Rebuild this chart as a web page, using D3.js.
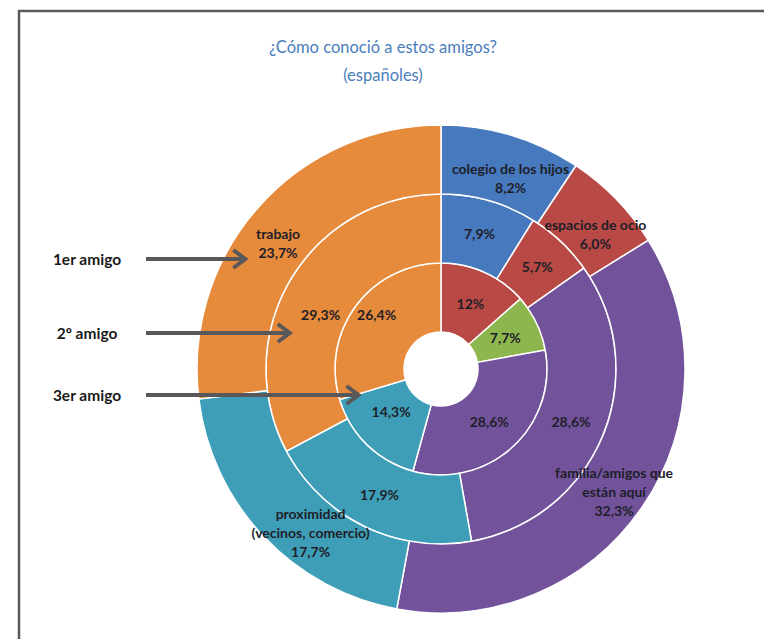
<!DOCTYPE html>
<html>
<head>
<meta charset="utf-8">
<script src="https://cdn.jsdelivr.net/npm/d3@7"></script>
<style>
  body { margin: 0; background: #fff; }
  svg { display: block; }
</style>
</head>
<body>
<svg id="chart" width="764" height="639"></svg>
<script>
// categories, in slice order (clockwise from 12 o'clock)
const categories = ["colegio de los hijos", "espacios de ocio", "otros", "familia/amigos que\nestán aquí", "proximidad\n(vecinos, comercio)", "trabajo"];
const colors = ["#4679bd", "#b94945", "#8eb64e", "#72539b", "#3e9eb8", "#e68a3b"];

// one ring per friend, inner to outer
const ringNames = ["3er amigo", "2º amigo", "1er amigo"];
const amigo3 = [0, 12, 7.7, 28.6, 14.3, 26.4];
const amigo2 = [7.9, 5.7, 0, 28.6, 17.9, 29.3];
const amigo1 = [8.2, 6.0, 0, 32.3, 17.7, 23.7];
const ringFormats = [".1~f", ".1f", ".1f"];

const title = ["¿Cómo conoció a estos amigos?", "(españoles)"];

const width = 764, height = 639;
const cx = 441, cy = 369;
const holeRadius = 37, outerRadius = 244;

const svg = d3.select('#chart');
const locale = d3.formatLocale({decimal: ",", thousands: ".", grouping: [3], currency: ["", "€"]});

// frame
svg.append('path')
.attr('d', `M19,${height} V11 H${width}`)
.attr('fill', 'none')
.attr('stroke', '#5a5a5a')
.attr('stroke-width', 2.5);

// title
svg.append('text')
.attr('text-anchor', 'middle')
.attr('font-family', 'Lato, sans-serif')
.attr('font-size', 16.5)
.attr('fill', '#4a7ebb')
.selectAll('tspan')
.data(title)
.join('tspan')
.attr('x', 383)
.attr('y', (d, i) => 53 + i * 28)
.text(d => d);

const radius = d3.scaleLinear().domain([0, ringNames.length]).range([holeRadius, outerRadius]);
const pie = d3.pie().sort(null).value(d => d);
const ringValues = [amigo3, amigo2, amigo1];

// nudges so labels sit where the original chart put them
const labelNudge = {
    "2-0": [9, 10], "2-1": [4, 11], "2-3": [0, 5], "2-4": [22, 20], "2-5": [-6, 13],
    "1-5": [0, 18], "0-5": [-7, -11], "0-4": [0, -8]
};

const vizGroup = svg.append('g').attr('transform', `translate(${cx},${cy})`);

ringValues.forEach((values, ri) => {
    const arc = d3.arc().innerRadius(radius(ri)).outerRadius(radius(ri + 1));
    const arcs = pie(values).map((d, i) => ({...d, ci: i}));
    const fmt = locale.format(ringFormats[ri]);

    const g = vizGroup.append('g').attr('class', `ring-${ri}`);
    g.selectAll('path')
    .data(arcs.filter(d => d.value > 0))
    .join('path')
    .attr('d', arc)
    .attr('fill', d => colors[d.ci])
    .attr('stroke', '#fff')
    .attr('stroke-width', 1.5);

    g.selectAll('text')
    .data(arcs.filter(d => d.value > 0))
    .join('text')
    .attr('font-family', 'Lato, sans-serif')
    .attr('font-weight', 700)
    .attr('font-size', 14)
    .attr('fill', '#1e1e28')
    .attr('text-anchor', 'middle')
    .each(function(d) {
        const [x, y] = arc.centroid(d);
        const [dx, dy] = labelNudge[`${ri}-${d.ci}`] || [0, 0];
        const lines = ri === ringNames.length - 1
            ? [...categories[d.ci].split('\n'), fmt(d.value) + '%']
            : [fmt(d.value) + '%'];
        const lh = 19;
        const y0 = y + dy - (lines.length - 1) * lh / 2 + 5;
        d3.select(this).selectAll('tspan')
        .data(lines)
        .join('tspan')
        .attr('x', x + dx)
        .attr('y', (l, i) => y0 + i * lh)
        .text(l => l);
    });
});

// arrows pointing at each ring
const arrowY = [395, 333, 259];
const arrowStart = 146;
const labelX = 87;
const arrows = svg.append('g');
ringNames.forEach((name, ri) => {
    const y = arrowY[ri];
    const tipR = (radius(ri) + radius(ri + 1)) / 2 + 15;
    const tipX = cx - Math.sqrt(tipR * tipR - (y - cy) * (y - cy));
    arrows.append('line')
    .attr('x1', arrowStart).attr('x2', tipX - 2)
    .attr('y1', y).attr('y2', y)
    .attr('stroke', '#58585a')
    .attr('stroke-width', 4);
    arrows.append('path')
    .attr('d', `M${tipX - 12},${y - 9} L${tipX},${y} L${tipX - 12},${y + 9}`)
    .attr('fill', 'none')
    .attr('stroke', '#58585a')
    .attr('stroke-width', 4)
    .attr('stroke-linejoin', 'miter');
    arrows.append('text')
    .attr('x', labelX)
    .attr('y', y + 6)
    .attr('text-anchor', 'middle')
    .attr('font-family', 'Lato, sans-serif')
    .attr('font-weight', 700)
    .attr('font-size', 15.5)
    .attr('fill', '#1a1a1a')
    .text(name);
});
</script>
</body>
</html>
